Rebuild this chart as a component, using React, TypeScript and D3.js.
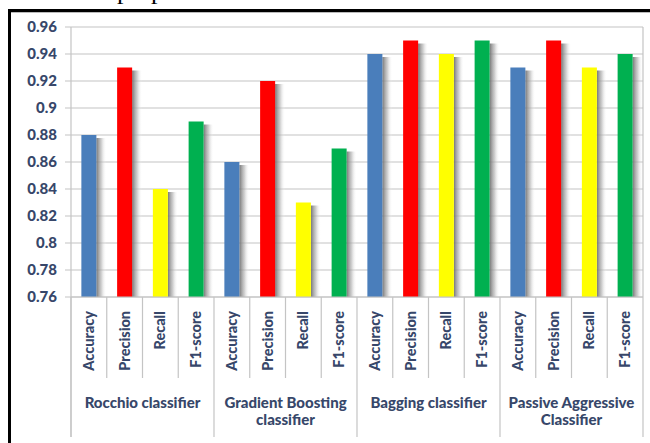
import React from "react";
import * as d3 from "d3";

const groups = ["Rocchio classifier", "Gradient Boosting\nclassifier", "Bagging classifier", "Passive Aggressive\nClassifier"];
const metrics = ["Accuracy", "Precision", "Recall", "F1-score"];
const metricColors = ["#4a7ebb", "#ff0000", "#ffff00", "#00b050"];
const values = [
  [0.88, 0.93, 0.84, 0.89],
  [0.86, 0.92, 0.83, 0.87],
  [0.94, 0.95, 0.94, 0.95],
  [0.93, 0.95, 0.93, 0.94],
];
const yTicks = [0.76, 0.78, 0.8, 0.82, 0.84, 0.86, 0.88, 0.9, 0.92, 0.94, 0.96];

const W = 650, H = 443;
const left = 71, right = 643, top = 27, bottom = 297;
const textColor = "#37476a";
const font = "Lato, 'Open Sans', sans-serif";

export default function App() {
  const cats = groups.flatMap((g, gi) => metrics.map((m, mi) => `${gi}-${mi}`));
  const x = d3.scaleBand().domain(cats).range([left, right]).paddingInner(0).paddingOuter(0);
  const y = d3.scaleLinear().domain([0.76, 0.96]).range([bottom, top]);
  const bw = x.bandwidth() * 0.42;

  return (
    <div style={{ position: "absolute", left: 0, top: 0 }}>
      <svg width={W} height={H} style={{ display: "block", background: "#fff" }}>
        <defs>
          <linearGradient id="shadow" x1="0" x2="1" y1="0" y2="0">
            <stop offset="0" stopColor="#707070" stopOpacity="0.95" />
            <stop offset="0.5" stopColor="#b0b0b0" stopOpacity="0.6" />
            <stop offset="1" stopColor="#ffffff" stopOpacity="0" />
          </linearGradient>
        </defs>
        {/* cropped document text above */}
        <text x={117} y={-1} fontFamily="'Liberation Serif', serif" fontSize={26} fill="#000">p</text>
        <text x={151} y={-1} fontFamily="'Liberation Serif', serif" fontSize={26} fill="#000">p</text>
        {/* frame */}
        <line x1={9.5} x2={W} y1={10.5} y2={10.5} stroke="#000" strokeWidth={3} />
        <line x1={9.5} x2={9.5} y1={9} y2={H} stroke="#000" strokeWidth={3} />
        <line x1={11} x2={W} y1={12.5} y2={12.5} stroke="#bbb" strokeWidth={1} />
        {/* grid */}
        {yTicks.map((t) => (
          <g key={t}>
            <line x1={left - 6} x2={right} y1={y(t)} y2={y(t)} stroke="#c4c4c4" strokeWidth={1.2} />
            <text x={57} y={y(t)} dy="0.36em" textAnchor="end" fontFamily={font} fontWeight="900" fontSize={15} fill={textColor}>
              {d3.format("")(t)}
            </text>
          </g>
        ))}
        <line x1={left} x2={left} y1={top} y2={bottom} stroke="#c4c4c4" strokeWidth={1.2} />
        {/* bars */}
        {values.map((row, gi) =>
          row.map((v, mi) => {
            const key = `${gi}-${mi}`;
            const cx = (x(key) as number) + x.bandwidth() / 2;
            const bx = cx - bw / 2;
            return (
              <g key={key}>
                <rect x={bx + bw} y={y(v) + 3} width={10} height={bottom - y(v) - 3} fill="url(#shadow)" />
                <rect x={bx} y={y(v)} width={bw} height={bottom - y(v)} fill={metricColors[mi]} />
              </g>
            );
          })
        )}
        {/* category separators */}
        {cats.map((c, i) => {
          const xx = x(c) as number;
          const isGroup = i % 4 === 0;
          return <line key={c} x1={xx} x2={xx} y1={bottom} y2={isGroup ? 437 : 378} stroke="#c4c4c4" strokeWidth={1.2} />;
        })}
        <line x1={right} x2={right} y1={top} y2={437} stroke="#c4c4c4" strokeWidth={1.2} />
        <line x1={left} x2={left} y1={bottom} y2={437} stroke="#c4c4c4" strokeWidth={1.2} />
        <line x1={left} x2={right} y1={bottom} y2={bottom} stroke="#c4c4c4" strokeWidth={1.2} />
        {/* metric labels */}
        {cats.map((c, i) => {
          const cx = (x(c) as number) + x.bandwidth() / 2;
          return (
            <text key={c} transform={`translate(${cx + 5},311) rotate(-90)`} textAnchor="end" fontFamily={font} fontWeight="900" fontSize={14.5} fill={textColor}>
              {metrics[i % 4]}
            </text>
          );
        })}
        {/* group labels */}
        {groups.map((g, gi) => {
          const x0 = x(`${gi}-0`) as number;
          const x1 = (x(`${gi}-3`) as number) + x.bandwidth();
          const cx = (x0 + x1) / 2;
          return (
            <text key={g} x={cx} y={408} textAnchor="middle" fontFamily={font} fontWeight="900" fontSize={15} fill={textColor}>
              {g.split("\n").map((line, li) => (
                <tspan key={li} x={cx} dy={li === 0 ? 0 : 17}>{line}</tspan>
              ))}
            </text>
          );
        })}
      </svg>
    </div>
  );
}
